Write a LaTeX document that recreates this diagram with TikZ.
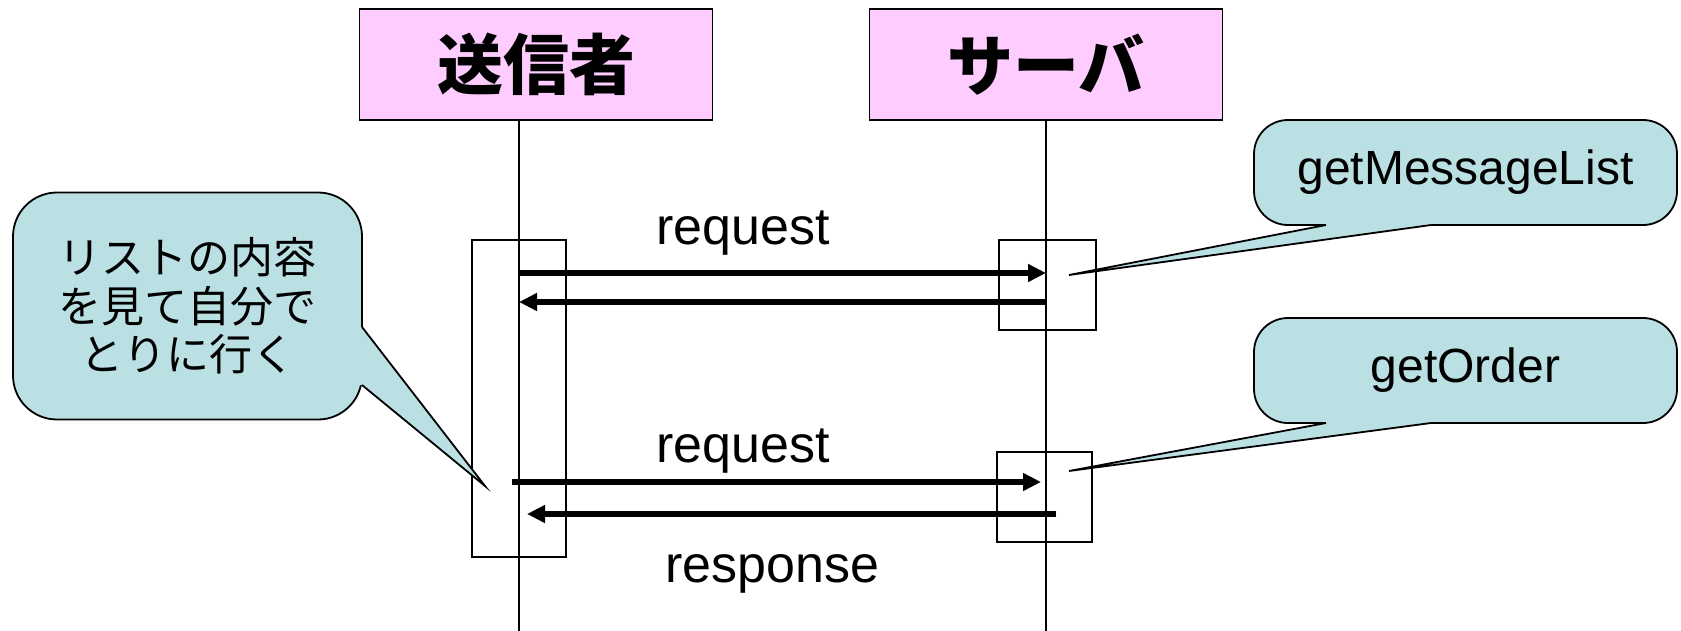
\documentclass[tikz,border=0pt]{standalone}
\usepackage{fontspec}
\setmainfont{Liberation Sans}
\newfontfamily\jp{Noto Sans CJK JP}
\usetikzlibrary{arrows.meta}
\definecolor{headpink}{HTML}{FFCCFF}
\definecolor{notecyan}{HTML}{BAE0E4}

\tikzset{
  actor/.style={draw, line width=0.9pt, fill=headpink, inner sep=0pt,
    minimum width=176.5pt, minimum height=55.5pt, font=\jp\bfseries\fontsize{33}{40}\selectfont},
  activation/.style={draw, line width=0.75pt, fill=white, inner sep=0pt},
  lifeline/.style={line width=0.65pt},
  msg/.style={line width=2.6pt, -{Triangle[length=9pt,width=8.5pt]}},
  msglabel/.style={anchor=base, font=\fontsize{26}{31}\selectfont},
  note/.style={draw, line width=0.9pt, fill=notecyan, inner sep=0pt},
  pointer/.style={line width=0.9pt, line join=miter}
}

\begin{document}
\begin{tikzpicture}[x=0.5pt, y=-0.5pt]
    \useasboundingbox (0,0) rectangle (1681,631);
    % heads
    \node[actor] (sender) at (536,64.5) {送信者};
    \node[actor] (server) at (1046,64.5) {サーバ};
    % activation boxes
    \node[activation, minimum width=47pt, minimum height=158.5pt] (sendact) at (519,398.5) {};
    \node[activation, minimum width=48.5pt, minimum height=45pt] (servactA) at (1047.5,285) {};
    \node[activation, minimum width=47.5pt, minimum height=45pt] (servactB) at (1044.5,497) {};
    % lifelines
    \coordinate (sendtop) at (519,120);
    \coordinate (sendbot) at (519,631);
    \coordinate (servtop) at (1046,120);
    \coordinate (servbot) at (1046,631);
    \draw[lifeline] (sendtop) -- (sendbot);
    \draw[lifeline] (servtop) -- (servbot);
    % messages
    \coordinate (reqAfrom) at (519,273);
    \coordinate (reqAto) at (1046,273);
    \coordinate (resAfrom) at (1046,302);
    \coordinate (resAto) at (519,302);
    \coordinate (reqBfrom) at (512,482);
    \coordinate (reqBto) at (1041,482);
    \coordinate (resBfrom) at (1056,514);
    \coordinate (resBto) at (527,514);
    \draw[msg] (reqAfrom) -- (reqAto);
    \draw[msg] (resAfrom) -- (resAto);
    \draw[msg] (reqBfrom) -- (reqBto);
    \draw[msg] (resBfrom) -- (resBto);
    \node[msglabel] (reqAlabel) at (743,244) {request};
    \node[msglabel] (reqBlabel) at (743,462) {request};
    \node[msglabel] (resBlabel) at (772,582) {response};
    % callouts
    \node[note, rounded corners=22pt, minimum width=174.5pt, minimum height=113.5pt,
      align=center, font=\jp\fontsize{21.5}{24.3}\selectfont] (memo) at (187.5,306)
      {リストの内容\\を見て自分で\\とりに行く};
    \coordinate (memotip) at (485,486);
    \fill[notecyan] (355,327) -- (362,327) -- (memotip) -- (362,385) -- (355,385) -- cycle;
    \draw[pointer] (362,327) -- (memotip) -- (362,385);
    \node[note, rounded corners=17pt, minimum width=211.5pt, minimum height=52.5pt,
      font=\fontsize{24}{29}\selectfont] (noteA) at (1465.5,172.5) {getMessageList};
    \coordinate (noteAtip) at (1069,275);
    \fill[notecyan] (1326,218) -- (1326,225) -- (noteAtip) -- (1431,225) -- (1431,218) -- cycle;
    \draw[pointer] (1326,225) -- (noteAtip) -- (1431,225);
    \node[note, rounded corners=17pt, minimum width=211.5pt, minimum height=52.5pt,
      font=\fontsize{24}{29}\selectfont] (noteB) at (1465.5,370.5) {getOrder};
    \coordinate (noteBtip) at (1069,471);
    \fill[notecyan] (1326,416) -- (1326,423) -- (noteBtip) -- (1431,423) -- (1431,416) -- cycle;
    \draw[pointer] (1326,423) -- (noteBtip) -- (1431,423);
\end{tikzpicture}
\end{document}
